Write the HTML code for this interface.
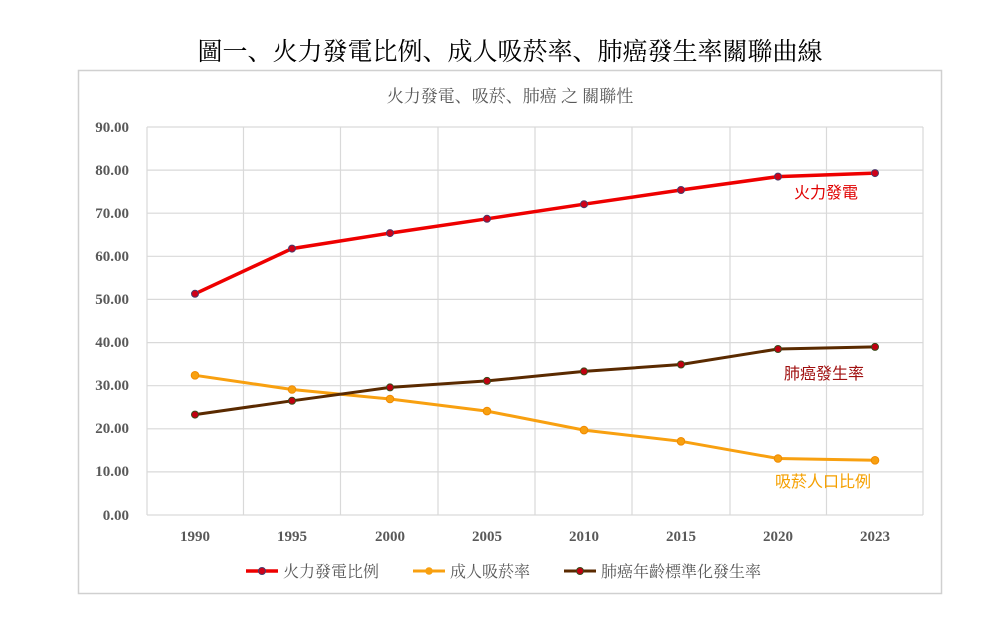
<!DOCTYPE html>
<html><head><meta charset="utf-8"><style>
body{margin:0;background:#fff;}
svg text{font-family:"Liberation Serif","Noto Serif CJK SC","Noto Sans CJK TC",serif;}
</style></head><body>
<svg width="1000" height="617" xmlns="http://www.w3.org/2000/svg">
<rect width="1000" height="617" fill="#fff"/>
<text x="510" y="60" font-size="25" text-anchor="middle" fill="#000" style="font-family:'Noto Serif CJK SC','Liberation Serif',serif">圖一、火力發電比例、成人吸菸率、肺癌發生率關聯曲線</text>
<rect x="78.5" y="70.5" width="863" height="523" fill="#fff" stroke="#d0d0d0" stroke-width="1.5"/>
<text x="510" y="102" font-size="17" text-anchor="middle" fill="#595959">火力發電、吸菸、肺癌 之 關聯性</text>
<g stroke="#d9d9d9" stroke-width="1.2">
<line x1="147" y1="127" x2="923" y2="127"/>
<line x1="147" y1="170.1" x2="923" y2="170.1"/>
<line x1="147" y1="213.2" x2="923" y2="213.2"/>
<line x1="147" y1="256.3" x2="923" y2="256.3"/>
<line x1="147" y1="299.4" x2="923" y2="299.4"/>
<line x1="147" y1="342.6" x2="923" y2="342.6"/>
<line x1="147" y1="385.7" x2="923" y2="385.7"/>
<line x1="147" y1="428.8" x2="923" y2="428.8"/>
<line x1="147" y1="471.9" x2="923" y2="471.9"/>
<line x1="147" y1="515" x2="923" y2="515"/>
<line x1="147" y1="127" x2="147" y2="515"/>
<line x1="243.5" y1="127" x2="243.5" y2="515"/>
<line x1="340.5" y1="127" x2="340.5" y2="515"/>
<line x1="438" y1="127" x2="438" y2="515"/>
<line x1="535" y1="127" x2="535" y2="515"/>
<line x1="632" y1="127" x2="632" y2="515"/>
<line x1="730" y1="127" x2="730" y2="515"/>
<line x1="826.5" y1="127" x2="826.5" y2="515"/>
<line x1="923" y1="127" x2="923" y2="515"/>
</g>
<g font-size="15" font-weight="bold" fill="#595959" text-anchor="end">
<text x="129" y="132">90.00</text><text x="129" y="175">80.00</text><text x="129" y="218">70.00</text>
<text x="129" y="261">60.00</text><text x="129" y="304">50.00</text><text x="129" y="347">40.00</text>
<text x="129" y="390">30.00</text><text x="129" y="433">20.00</text><text x="129" y="476">10.00</text>
<text x="129" y="520">0.00</text>
</g>
<g font-size="15" font-weight="bold" fill="#595959" text-anchor="middle">
<text x="195" y="541">1990</text><text x="292" y="541">1995</text><text x="390" y="541">2000</text>
<text x="487" y="541">2005</text><text x="584" y="541">2010</text><text x="681" y="541">2015</text>
<text x="778" y="541">2020</text><text x="875" y="541">2023</text>
</g>
<polyline fill="none" stroke="#ee0000" stroke-width="3.5" points="195,293.8 292,248.6 390,233.1 487,218.8 584,204.2 681,190 778,176.6 875,173.1"/>
<polyline fill="none" stroke="#f8a010" stroke-width="3" points="195,375.3 292,389.5 390,399 487,411.1 584,430.1 681,441.3 778,458.5 875,460.3"/>
<polyline fill="none" stroke="#5a2a00" stroke-width="3" points="195,414.6 292,400.8 390,387.4 487,380.9 584,371.4 681,364.5 778,349 875,346.9"/>
<g fill="#d00018" stroke="#4a3a6a" stroke-width="1">
<circle cx="195" cy="293.8" r="3.5"/><circle cx="292" cy="248.6" r="3.5"/><circle cx="390" cy="233.1" r="3.5"/><circle cx="487" cy="218.8" r="3.5"/><circle cx="584" cy="204.2" r="3.5"/><circle cx="681" cy="190" r="3.5"/><circle cx="778" cy="176.6" r="3.5"/><circle cx="875" cy="173.1" r="3.5"/>
</g>
<g fill="#f8a010" stroke="#f08a00" stroke-width="1">
<circle cx="195" cy="375.3" r="3.8"/><circle cx="292" cy="389.5" r="3.8"/><circle cx="390" cy="399" r="3.8"/><circle cx="487" cy="411.1" r="3.8"/><circle cx="584" cy="430.1" r="3.8"/><circle cx="681" cy="441.3" r="3.8"/><circle cx="778" cy="458.5" r="3.8"/><circle cx="875" cy="460.3" r="3.8"/>
</g>
<g fill="#c00010" stroke="#3a4a1a" stroke-width="1">
<circle cx="195" cy="414.6" r="3.5"/><circle cx="292" cy="400.8" r="3.5"/><circle cx="390" cy="387.4" r="3.5"/><circle cx="487" cy="380.9" r="3.5"/><circle cx="584" cy="371.4" r="3.5"/><circle cx="681" cy="364.5" r="3.5"/><circle cx="778" cy="349" r="3.5"/><circle cx="875" cy="346.9" r="3.5"/>
</g>
<g font-size="16">
<text x="794" y="198" fill="#e00000" style="font-family:'Liberation Sans','Noto Sans CJK TC',sans-serif">火力發電</text>
<text x="784" y="379" fill="#a01010" style="font-family:'Liberation Sans','Noto Sans CJK TC',sans-serif">肺癌發生率</text>
<text x="775" y="487" fill="#f5a000" style="font-family:'Liberation Sans','Noto Sans CJK TC',sans-serif">吸菸人口比例</text>
</g>
<g font-size="16" fill="#595959">
<line x1="246" y1="571" x2="278" y2="571" stroke="#ee0000" stroke-width="3.5"/><circle cx="262" cy="571" r="3.5" fill="#d00018" stroke="#4a3a6a"/>
<text x="283" y="577">火力發電比例</text>
<line x1="413" y1="571" x2="445" y2="571" stroke="#f8a010" stroke-width="3"/><circle cx="429" cy="571" r="3.8" fill="#f8a010"/>
<text x="450" y="577">成人吸菸率</text>
<line x1="564" y1="571" x2="596" y2="571" stroke="#5a2a00" stroke-width="3"/><circle cx="580" cy="571" r="3.5" fill="#c00010" stroke="#3a4a1a"/>
<text x="601" y="577">肺癌年齡標準化發生率</text>
</g>
</svg>
</body></html>
